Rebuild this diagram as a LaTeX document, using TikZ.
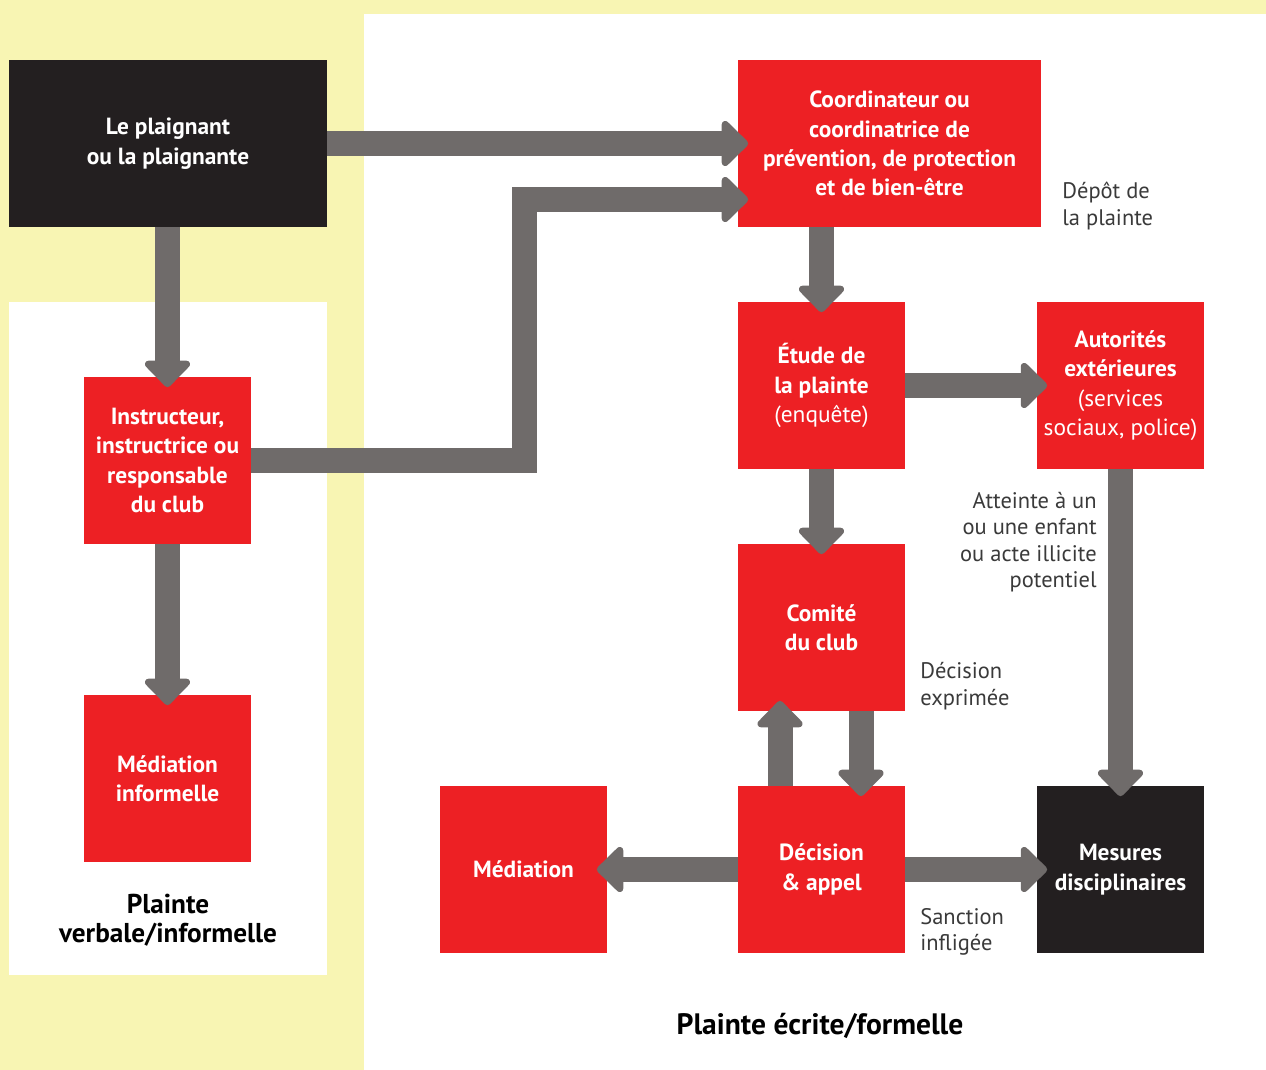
\documentclass[tikz,border=0pt]{standalone}
\usepackage{fontspec}
\setmainfont{PT Sans}
\usetikzlibrary{arrows.meta}
\definecolor{bgyellow}{HTML}{F8F5B3}
\definecolor{boxred}{HTML}{ED2024}
\definecolor{boxblack}{HTML}{231F20}
\definecolor{arrgray}{HTML}{6F6B6A}
\definecolor{labgray}{HTML}{3A3A3A}
\newcommand{\bxfont}{\fontsize{13.3}{16.7}\selectfont\bfseries}
\newcommand{\lbfont}{\fontsize{12.8}{15.1}\selectfont}
\begin{document}
\begin{tikzpicture}[x=0.2mm,y=-0.2mm,
  box/.style={minimum width=33.4mm, minimum height=33.4mm, inner sep=0pt, align=center, text=white, font=\bxfont, fill=boxred},
  blackbox/.style={box, fill=boxblack},
  conn/.style={draw=arrgray, line width=5mm, line join=miter,
    -{Triangle[width=10.6mm, length=5.6mm, round]}, shorten >=-2.1mm},
  lab/.style={inner sep=0pt, text=labgray, font=\lbfont},
  title/.style={inner sep=0pt, text=black, font=\fontsize{15.5}{16.5}\selectfont\bfseries, align=center}]
\useasboundingbox (0,0) rectangle (1266,1070);
\fill[bgyellow] (0,0) rectangle (1266,1070);
\fill[white] (364,14) rectangle (1266,1070);
\fill[white] (9,302) rectangle (327,975);
% boxes
\node[blackbox, minimum width=63.6mm] (plaig) at (168,143.5) {Le plaignant\\ou la plaignante};
\node[box, minimum width=60.6mm] (coord) at (889.5,143.5) {Coordinateur ou\\coordinatrice de\\prévention, de protection\\et de bien-être};
\node[box] (etude) at (821.5,385.5) {Étude de\\la plainte\\{\mdseries(enquête)}};
\node[box] (autor) at (1120.5,385.5) {Autorités\\extérieures\\{\mdseries(services}\\{\mdseries sociaux, police)}};
\node[box] (comite) at (821.5,627.5) {Comité\\du club};
\node[box] (decis) at (821.5,869.5) {Décision\\\& appel};
\node[box] (media) at (523.5,869.5) {Médiation};
\node[blackbox] (mesur) at (1120.5,869.5) {Mesures\\disciplinaires};
\node[box] (instr) at (167.5,460.5) {Instructeur,\\instructrice ou\\responsable\\du club};
\node[box] (medinf) at (167.5,778.5) {Médiation\\informelle};
% labels
\node[lab, anchor=west, align=left] (l1) at (1062,206) {Dépôt de\\la plainte};
\node[lab, anchor=east, align=right] (l2) at (1097,542) {Atteinte à un\\ou une enfant\\ou acte illicite\\potentiel};
\node[lab, anchor=west, align=left] (l3) at (920,686) {Décision\\exprimée};
\node[lab, anchor=west, align=left] (l4) at (920,932) {Sanction\\infligée};
\node[title] (t1) at (168,920) {Plainte\\verbale/informelle};
\node[title, font=\fontsize{16.8}{18}\selectfont\bfseries] (t2) at (820,1026) {Plainte écrite/formelle};
% connectors
\coordinate (bend) at (524.5,199.5);
\draw[conn] (plaig.east) -- (coord.west);
\draw[conn] (instr.east) -- (instr.east -| bend) -- (bend) -- (bend -| coord.west);
\draw[conn] (plaig.south -| instr.north) -- (instr.north);
\draw[conn] (instr.south) -- (medinf.north);
\draw[conn] (coord.south -| etude.north) -- (etude.north);
\draw[conn] (etude.east) -- (autor.west);
\draw[conn] (etude.south) -- (comite.north);
\draw[conn] ([xshift=7.9mm]comite.south) -- ([xshift=7.9mm]decis.north);
\draw[conn] ([xshift=-8.3mm]decis.north) -- ([xshift=-8.3mm]comite.south);
\draw[conn] (decis.west) -- (media.east);
\draw[conn] (decis.east) -- (mesur.west);
\draw[conn] (autor.south) -- (mesur.north);
\end{tikzpicture}
\end{document}
